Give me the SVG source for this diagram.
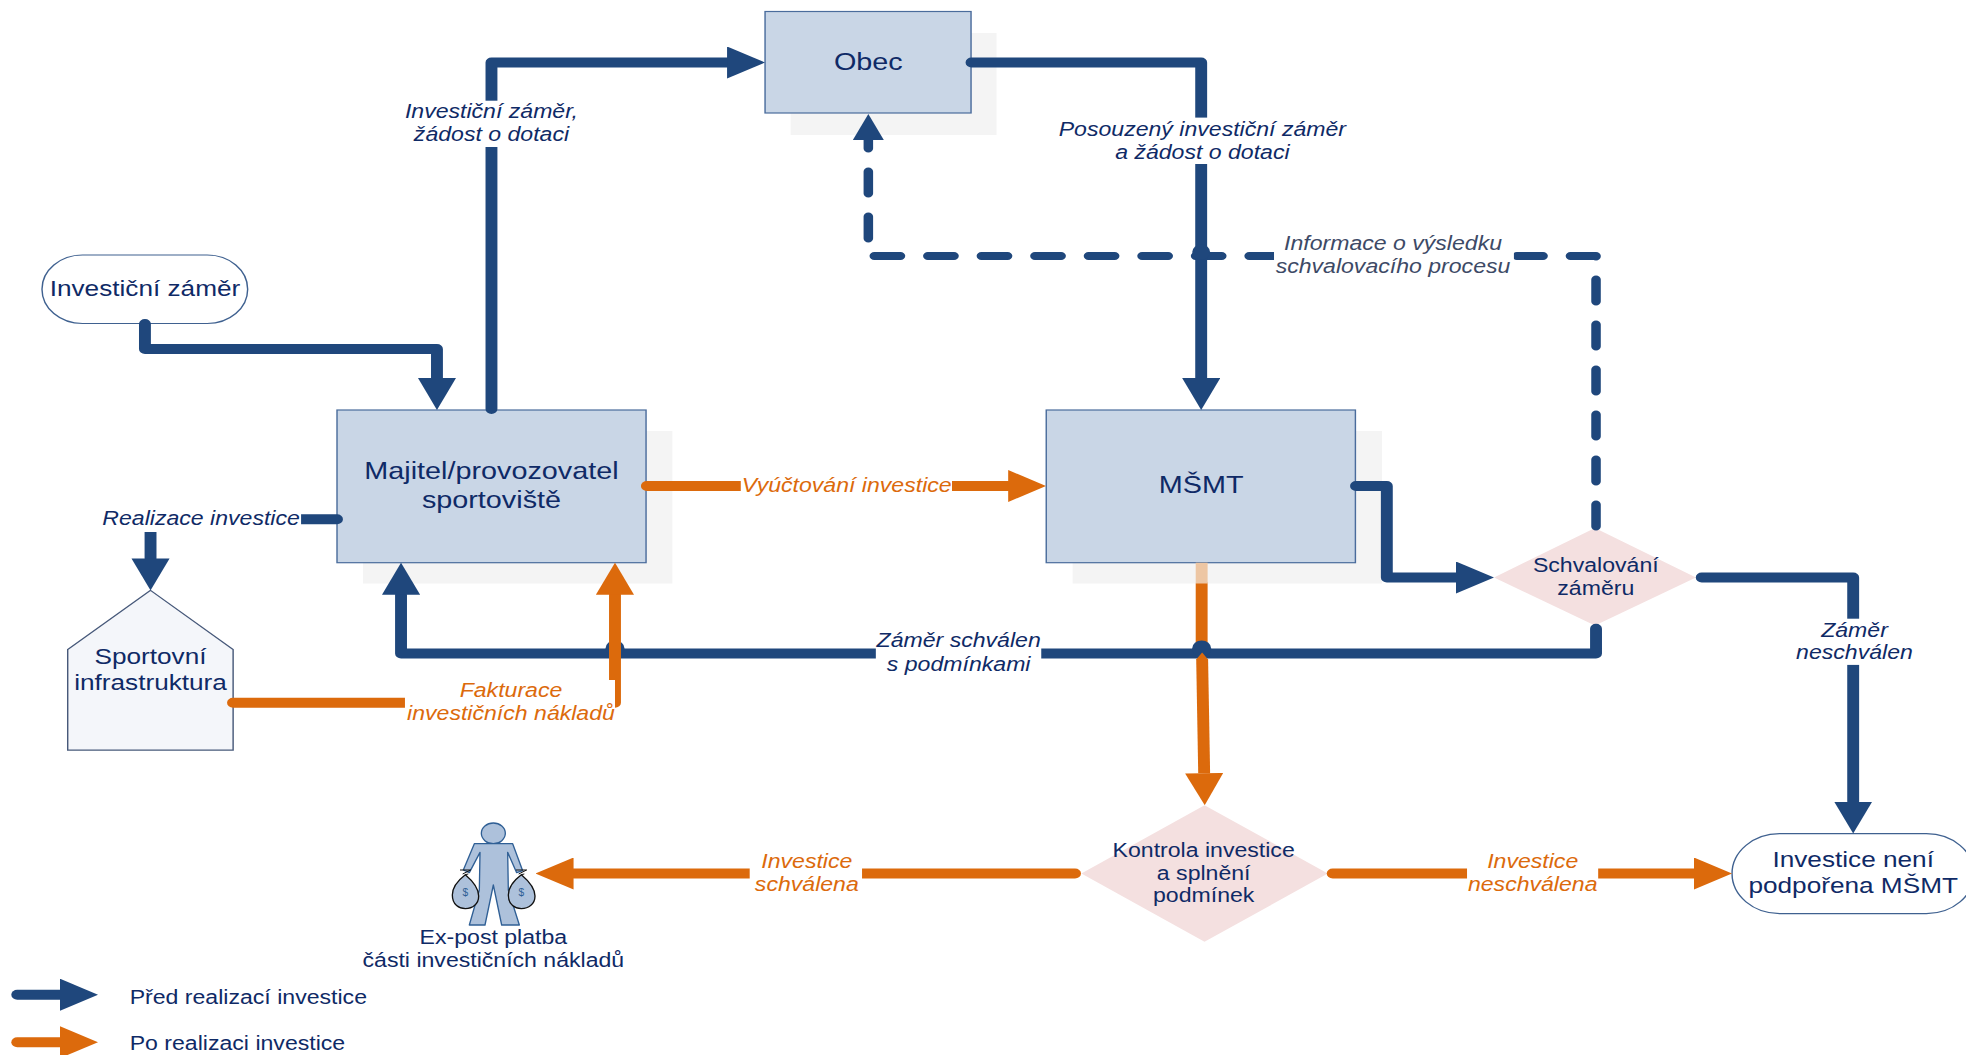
<svg xmlns="http://www.w3.org/2000/svg" width="1966" height="1055" viewBox="0 0 1966 1055">
<style>
text{font-family:"Liberation Sans",Arial,sans-serif;text-anchor:middle;fill:#0f2a66}
.n24{font-size:24.2px}.n22{font-size:22px}.n19{font-size:19.4px}
.lab{font-size:19.4px;font-style:italic}
.or{fill:#dc6a0c}.gr{fill:#3d4a66}
.leg{font-size:19.4px;text-anchor:start}
.box{fill:#c9d6e6;stroke:#4a6c9c;stroke-width:1.2}
.shadow{fill:#f4f4f4}
.term{fill:#fff;stroke:#3f6190;stroke-width:1.2}
.dia{fill:#f4e0e0}
.c{fill:none;stroke-width:10;stroke-linecap:round;stroke-linejoin:round}
.b{stroke:#1f477c}.o{stroke:#dc6a0c}
.mask{fill:#fff}
.body{fill:#adc1db;stroke:#2f5f95;stroke-width:4;stroke-linejoin:round}
.bag{fill:#adc1db;stroke:#111;stroke-width:4}
.tie{fill:none;stroke:#111;stroke-width:3}
</style>
<defs>
<marker id="hb" markerUnits="userSpaceOnUse" markerWidth="32" markerHeight="32" refX="0" refY="16" orient="auto"><path d="M0 0L32 16L0 32z" fill="#1f477c"/></marker>
<marker id="ho" markerUnits="userSpaceOnUse" markerWidth="32" markerHeight="32" refX="0" refY="16" orient="auto"><path d="M0 0L32 16L0 32z" fill="#dc6a0c"/></marker>
<marker id="hd" markerUnits="userSpaceOnUse" markerWidth="26" markerHeight="26" refX="0" refY="13" orient="auto"><path d="M0 0L26 13L0 26z" fill="#1f477c"/></marker>
</defs>
<rect width="1966" height="1055" fill="#fff"/>
<g transform="scale(1.19 1)">
<g id="node-obec"><rect class="shadow" x="664.4" y="33" width="173" height="102"/><rect class="box" x="642.9" y="11.5" width="173.1" height="101.5"/><text class="n24" x="729.7" y="70">Obec</text></g>
<g id="node-majitel"><rect class="shadow" x="305" y="431" width="260" height="152.5"/><rect class="box" x="283.2" y="410" width="259.7" height="152.7"/><text class="n24" x="413" y="479.4">Majitel/provozovatel</text><text class="n24" x="413" y="508">sportoviště</text></g>
<g id="node-msmt"><rect class="shadow" x="901.4" y="431" width="260" height="152.5"/><rect class="box" x="879.2" y="410" width="259.8" height="152.7"/><text class="n24" x="1009.4" y="493">MŠMT</text></g>
<g id="node-zamer"><rect class="term" x="35.3" y="255" width="172.8" height="68.5" rx="34" ry="34"/><text class="n22" x="121.8" y="296.5">Investiční záměr</text></g>
<g id="node-infra"><path d="M126.5 590.4L195.9 649.5V750.2H56.9V649.5z" fill="#f4f6fa" stroke="#47597a" stroke-width="1.2"/><text class="n22" x="126.5" y="663.7">Sportovní</text><text class="n22" x="126.5" y="690">infrastruktura</text></g>
<g id="node-schvalovani"><path class="dia" d="M1340.3 528L1425.2 577.5L1340.3 625.4L1255.5 577.5z"/><text class="n19" x="1341" y="571.8">Schvalování</text><text class="n19" x="1341" y="594.6">záměru</text></g>
<g id="node-kontrola"><path class="dia" d="M1012.2 805.2L1115.8 873.5L1012.2 941.8L908.7 873.5z"/><text class="n19" x="1011.5" y="857">Kontrola investice</text><text class="n19" x="1011.5" y="879.9">a splnění</text><text class="n19" x="1011.5" y="901.6">podmínek</text></g>
<g id="node-nepodporena"><rect class="term" x="1455.5" y="833.6" width="203.3" height="80" rx="40" ry="40"/><text class="n22" x="1557.3" y="867.5">Investice není</text><text class="n22" x="1557.3" y="893.3">podpořena MŠMT</text></g>
<g id="node-platba">
<g transform="scale(0.84034 1) translate(420 800) scale(0.33333)">
<ellipse class="body" cx="220" cy="100" rx="36" ry="31"/>
<path class="body" d="M163 131L278 131L308 212L290 218L263 157L265 270L298 375L245 375L220 255L195 375L148 375L178 270L180 157L148 218L130 210z"/>
<path class="bag" d="M136 224C115 240 97 260 97 285C97 315 118 326 136 326C158 326 176 312 176 288C176 262 155 240 136 224z"/>
<path class="bag" d="M304 224C283 240 265 260 265 285C265 315 286 326 304 326C326 326 345 312 345 288C345 262 323 240 304 224z"/>
<path class="tie" d="M120 210L152 210L128 222M145 222L136 224M288 210L320 210L296 222M313 222L304 224"/>
<text x="136" y="288" transform="translate(136 0) scale(0.9 1) translate(-136 0)" style="font-size:34px;fill:#2f5f95">$</text>
<text x="304" y="288" transform="translate(304 0) scale(0.9 1) translate(-304 0)" style="font-size:34px;fill:#2f5f95">$</text>
</g>
<text class="n19" x="414.6" y="944.5">Ex-post platba</text><text class="n19" x="414.6" y="966.9">části investičních nákladů</text></g>
<g id="connectors">
<path class="c o" d="M1009.8 584V645"/>
<rect x="1004.8" y="562.7" width="10" height="20.8" fill="#edc6a3"/>
<path class="c b" style="stroke-width:8;stroke-dasharray:22 23" d="M1341.2 526.5V256H733.2M729.7 238.5V140" marker-end="url(#hd)"/>
<path class="c b" d="M121.8 324V349H367.2V378" marker-end="url(#hb)"/>
<path class="c b" d="M413 409V62.5H611" marker-end="url(#hb)"/>
<path class="c b" d="M816.4 62.5H1009.4V378" marker-end="url(#hb)"/>
<circle cx="1009.4" cy="252" r="7.5" fill="#1f477c"/>
<path class="c b" d="M1139.5 486H1165.4V577.5H1223.5" marker-end="url(#hb)"/>
<path class="c b" d="M283.2 519.3H126.5V558.4" marker-end="url(#hb)"/>
<path class="c b" d="M1341.2 628.7V653.5H337V594.7" marker-end="url(#hb)"/>
<circle cx="1009.8" cy="648.5" r="8" fill="#1f477c"/>
<circle cx="516.8" cy="648.5" r="8" fill="#1f477c"/>
<path class="c b" d="M1430 577.5H1557.3V801.6" marker-end="url(#hb)"/>
<path class="c o" d="M543.6 486H847.2" marker-end="url(#ho)"/>
<path class="c o" d="M195.8 702.7H516.8V594.7" marker-end="url(#ho)"/>
<path d="M1005.2 659.5H1015.2L1010.2 652.5z" fill="#dc6a0c"/>
<path class="c o" style="stroke-linecap:butt" d="M1010.2 659L1011.9 773.2" marker-end="url(#ho)"/>
<path class="c o" d="M903.4 873.5H482" marker-end="url(#ho)"/>
<path class="c o" d="M1119.9 873.5H1423.5" marker-end="url(#ho)"/>
<path class="c b" d="M14.5 994.7H50.4" marker-end="url(#hb)"/>
<path class="c o" d="M14.5 1042.2H50.4" marker-end="url(#ho)"/>
</g>
<g id="labels">
<rect class="mask" x="338" y="100.7" width="150" height="46.3"/>
<text class="lab" x="413" y="118.3">Investiční záměr,</text><text class="lab" x="413" y="141.3">žádost o dotaci</text>
<rect class="mask" x="900" y="117.6" width="220" height="46.4"/>
<text class="lab" x="1010.4" y="136.2">Posouzený investiční záměr</text><text class="lab" x="1010.4" y="159.2">a žádost o dotaci</text>
<rect class="mask" x="1070.6" y="232" width="201.6" height="48"/>
<text class="lab gr" x="1170.6" y="250.2">Informace o výsledku</text><text class="lab gr" x="1170.6" y="273.2">schvalovacího procesu</text>
<rect class="mask" x="85" y="505" width="168" height="27"/>
<text class="lab" x="169" y="524.7">Realizace investice</text>
<rect class="mask" x="622.5" y="478" width="177.5" height="16"/>
<text class="lab or" x="711.5" y="492">Vyúčtování investice</text>
<rect class="mask" x="340.3" y="680" width="176.5" height="42"/>
<text class="lab or" x="429.4" y="696.8">Fakturace</text><text class="lab or" x="429.4" y="719.8">investičních nákladů</text>
<rect class="mask" x="736" y="634" width="139" height="45"/>
<text class="lab" x="805.6" y="647.2">Záměr schválen</text><text class="lab" x="805.6" y="670.6">s podmínkami</text>
<rect class="mask" x="1520" y="618.7" width="76" height="46.2"/>
<text class="lab" x="1558.4" y="637.1">Záměr</text><text class="lab" x="1558.4" y="658.9">neschválen</text>
<rect class="mask" x="630" y="864.5" width="94.4" height="18"/>
<text class="lab or" x="678" y="868.1">Investice</text><text class="lab or" x="678" y="890.9">schválena</text>
<rect class="mask" x="1232.8" y="864.5" width="110.2" height="18"/>
<text class="lab or" x="1288" y="868.1">Investice</text><text class="lab or" x="1288" y="890.9">neschválena</text>
</g>
<g id="legend">
<text class="leg" x="109" y="1003.7">Před realizací investice</text>
<text class="leg" x="109" y="1049.6">Po realizaci investice</text>
</g>
</g>
</svg>
